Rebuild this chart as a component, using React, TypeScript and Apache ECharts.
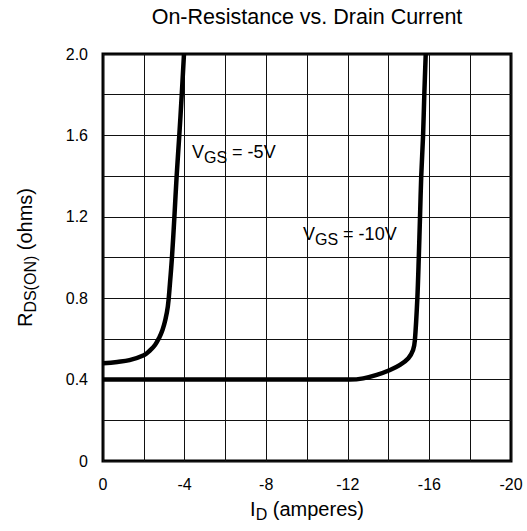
import React, { useEffect, useRef } from "react";
import * as echarts from "echarts";

// Data
const vgs5X = [0, -0.7, -1.3, -2.0, -2.3, -2.55, -2.75, -2.92, -3.06, -3.18, -3.28, -3.38, -3.5, -3.61, -3.74, -3.86, -3.97];
const vgs5Y = [0.48, 0.487, 0.496, 0.52, 0.543, 0.57, 0.605, 0.645, 0.695, 0.76, 0.87, 1.0, 1.2, 1.4, 1.6, 1.8, 2.0];

const vgs10X = [0, -12.1, -12.76, -13.42, -14.07, -14.56, -14.97, -15.2, -15.29, -15.41, -15.48, -15.54, -15.6, -15.69, -15.75, -15.82];
const vgs10Y = [0.4, 0.4, 0.406, 0.423, 0.447, 0.472, 0.505, 0.545, 0.595, 0.8, 1.0, 1.2, 1.4, 1.6, 1.8, 2.0];

const xTickValues = [0, -4, -8, -12, -16, -20];
const xTickLabels = ["0", "-4", "-8", "-12", "-16", "-20"];
const yTickValues = [0, 0.4, 0.8, 1.2, 1.6, 2.0];
const yTickLabels = ["0", "0.4", "0.8", "1.2", "1.6", "2.0"];

const FONT = '"Liberation Sans", Arial, Helvetica, sans-serif';

function pickLabel(v: number, values: number[], labels: string[]) {
  for (let i = 0; i < values.length; i++) {
    if (Math.abs(values[i] - v) < 1e-6) return labels[i];
  }
  return "";
}

export default function App() {
  const ref = useRef<HTMLDivElement>(null);
  useEffect(() => {
    if (!ref.current) return;
    const chart = echarts.init(ref.current, null, { renderer: "svg" });
    const subRich = (main: number, sub: number, pad: number) => ({
      a: { fontSize: main, fontFamily: FONT, color: "#000" },
      b: { fontSize: sub, fontFamily: FONT, color: "#000", padding: [pad, 0, 0, 0] },
    });
    const vgsRich = {
      v: { fontSize: 18, fontFamily: FONT, fill: "#000" },
      s: { fontSize: 16, fontFamily: FONT, fill: "#000", padding: [10, 0, 0, 0] },
    };
    chart.setOption({
      animation: false,
      backgroundColor: "#fff",
      title: {
        text: "On-Resistance vs. Drain Current",
        left: 307,
        textAlign: "center",
        top: 6,
        padding: 0,
        textStyle: { fontSize: 21.5, fontWeight: "normal", fontFamily: FONT, color: "#000" },
      },
      grid: {
        left: 103,
        top: 54,
        width: 408,
        height: 407,
        show: true,
        borderColor: "#000",
        borderWidth: 3,
        backgroundColor: "transparent",
      },
      xAxis: {
        type: "value",
        min: -20,
        max: 0,
        interval: 2,
        inverse: true,
        axisLine: { show: false },
        axisTick: { show: false },
        splitLine: { show: true, lineStyle: { color: "#111", width: 1 } },
        axisLabel: {
          margin: 15,
          fontSize: 16,
          fontFamily: FONT,
          color: "#000",
          formatter: (v: number) => pickLabel(v, xTickValues, xTickLabels),
        },
        name: "{a|I}{b|D}{a| (amperes)}",
        nameLocation: "middle",
        nameGap: 34,
        nameTextStyle: { rich: subRich(20, 16, 11) },
      },
      yAxis: {
        type: "value",
        min: 0,
        max: 2,
        interval: 0.2,
        axisLine: { show: false },
        axisTick: { show: false },
        splitLine: { show: true, lineStyle: { color: "#111", width: 1 } },
        axisLabel: {
          margin: 15,
          fontSize: 16,
          fontFamily: FONT,
          color: "#000",
          formatter: (v: number) => pickLabel(v, yTickValues, yTickLabels),
        },
        name: "{a|R}{b|DS(ON)}{a| (ohms)}",
        nameLocation: "middle",
        nameRotate: 90,
        nameGap: 65,
        nameTextStyle: { rich: subRich(20, 16, 11) },
      },
      series: [
        {
          type: "line",
          name: "VGS = -5V",
          data: vgs5X.map((x, i) => [x, vgs5Y[i]]),
          showSymbol: false,
          smooth: 0.4,
          clip: true,
          lineStyle: { color: "#000", width: 4.5 },
          z: 5,
        },
        {
          type: "line",
          name: "VGS = -10V",
          data: vgs10X.map((x, i) => [x, vgs10Y[i]]),
          showSymbol: false,
          smooth: 0.3,
          clip: true,
          lineStyle: { color: "#000", width: 4.5 },
          z: 5,
        },
      ],
      graphic: [
        {
          type: "text",
          x: 192,
          y: 152,
          style: { text: "{v|V}{s|GS}{v| = -5V}", verticalAlign: "middle", align: "left", rich: vgsRich },
          z: 10,
        },
        {
          type: "text",
          x: 303,
          y: 234,
          style: { text: "{v|V}{s|GS}{v| = -10V}", verticalAlign: "middle", align: "left", rich: vgsRich },
          z: 10,
        },
      ],
    });
    return () => chart.dispose();
  }, []);
  return <div ref={ref} style={{ width: 527, height: 531, position: "absolute", left: 0, top: 0 }} />;
}
